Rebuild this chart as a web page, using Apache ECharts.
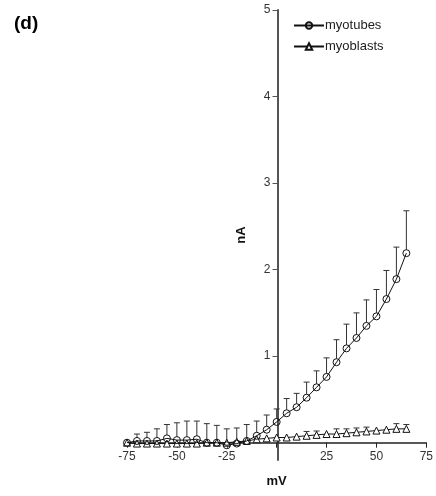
<!DOCTYPE html>
<html>
<head>
<meta charset="utf-8">
<script src="https://cdn.jsdelivr.net/npm/echarts@6/dist/echarts.min.js"></script>
<style>
  html, body { margin: 0; padding: 0; background: #fff; }
  #chart { width: 436px; height: 496px; }
</style>
</head>
<body>
<div id="chart"></div>
<script>
// membrane voltage steps (mV)
const voltages = [-75, -70, -65, -60, -55, -50, -45, -40, -35, -30, -25, -20, -15, -10, -5,
  0, 5, 10, 15, 20, 25, 30, 35, 40, 45, 50, 55, 60, 65];

// mean current (nA)
const myotubes = [0, 0.02, 0.02, 0.02, 0.05, 0.03, 0.03, 0.04, 0.0, 0.0, -0.03, -0.01, 0.02, 0.08, 0.15,
  0.24, 0.34, 0.41, 0.52, 0.64, 0.76, 0.93, 1.09, 1.21, 1.35, 1.46, 1.66, 1.89, 2.19];
const myoblasts = [0, -0.01, -0.01, -0.01, -0.01, -0.01, -0.01, -0.01, 0, 0, 0, 0.01, 0.02, 0.04, 0.05,
  0.06, 0.06, 0.07, 0.08, 0.09, 0.1, 0.1, 0.11, 0.12, 0.13, 0.14, 0.15, 0.16, 0.16];

// SEM (upper bars only)
const myotubesErr = [0.04, 0.08, 0.10, 0.14, 0.16, 0.20, 0.22, 0.21, 0.22, 0.20, 0.19, 0.18, 0.19, 0.17, 0.17,
  0.15, 0.17, 0.16, 0.18, 0.19, 0.22, 0.26, 0.28, 0.29, 0.30, 0.31, 0.33, 0.37, 0.49];
const myoblastsErr = [0.04, 0.03, 0.03, 0.03, 0.03, 0.03, 0.03, 0.03, 0.03, 0.03, 0.03, 0.03, 0.03, 0.03, 0.04,
  0.04, 0.04, 0.03, 0.05, 0.045, 0.04, 0.06, 0.05, 0.05, 0.05, 0.04, 0.04, 0.06, 0.05];

const yTicks = [1, 2, 3, 4, 5];

const mkPairs = (ys) => voltages.map((v, i) => [v, ys[i]]);
const mkErr = (ys, es) => voltages.map((v, i) => [v, ys[i], ys[i] + es[i]]);

function errorBars(params, api) {
  const x = api.value(0);
  const base = api.coord([x, api.value(1)]);
  const top = api.coord([x, api.value(2)]);
  const style = { stroke: '#333', lineWidth: 1 };
  const y0 = base[1] - 3.5;
  if (top[1] >= y0) return { type: 'group', children: [] };
  return {
    type: 'group',
    children: [
      { type: 'line', shape: { x1: base[0], y1: y0, x2: top[0], y2: top[1] }, style: style },
      { type: 'line', shape: { x1: top[0] - 3, y1: top[1], x2: top[0] + 3, y2: top[1] }, style: style }
    ]
  };
}

// grid box: x -75..75 over 301px, y -0.2..5 over 450px
const gridLeft = 127, gridW = 301, gridTop = 10, gridH = 450;
const yMin = -0.2, yMax = 5;
const yAxisShift = -gridW / 2;                        // put y axis at x = 0
const xAxisShift = -gridH * (0 - yMin) / (yMax - yMin); // put x axis at y = 0

const chart = echarts.init(document.getElementById('chart'));
chart.setOption({
  animation: false,
  backgroundColor: '#fff',
  textStyle: { fontFamily: 'Liberation Sans, Arial, sans-serif' },
  graphic: [
    { type: 'text', left: 14, top: 14, style: { text: '(d)', font: 'bold 19px Liberation Sans, Arial, sans-serif', fill: '#000' } }
  ],
  legend: {
    orient: 'vertical',
    left: 288,
    top: 14,
    itemGap: 8,
    itemWidth: 30,
    itemHeight: 8,
    textStyle: { fontSize: 13, color: '#222', padding: [0, 0, 0, -4] },
    data: ['myotubes', 'myoblasts']
  },
  grid: { left: gridLeft, width: gridW, top: gridTop, height: gridH },
  xAxis: {
    type: 'value',
    min: -75,
    max: 75,
    interval: 25,
    offset: xAxisShift,
    name: 'mV',
    nameLocation: 'middle',
    nameGap: 32,
    nameTextStyle: { fontWeight: 'bold', fontSize: 13, color: '#111' },
    axisLine: { onZero: false, lineStyle: { color: '#222', width: 1.5 } },
    axisTick: { length: 5, lineStyle: { color: '#222', width: 1 } },
    axisLabel: {
      color: '#333', fontSize: 12, margin: 8,
      formatter: (v) => (v === 0 ? '' : String(v))
    },
    splitLine: { show: false }
  },
  yAxis: {
    type: 'value',
    min: yMin,
    max: yMax,
    offset: yAxisShift,
    name: 'nA',
    nameLocation: 'middle',
    nameGap: 30,
    nameRotate: 90,
    nameTextStyle: { fontWeight: 'bold', fontSize: 13, color: '#111' },
    axisLine: { onZero: false, lineStyle: { color: '#555', width: 2 } },
    axisTick: { length: 5, customValues: yTicks, lineStyle: { color: '#555', width: 1 } },
    axisLabel: { color: '#333', fontSize: 12, margin: 7, customValues: yTicks },
    splitLine: { show: false }
  },
  series: [
    {
      type: 'custom',
      name: 'myotubesErr',
      renderItem: errorBars,
      encode: { x: 0, y: [1, 2] },
      data: mkErr(myotubes, myotubesErr),
      z: 1,
      silent: true
    },
    {
      type: 'custom',
      name: 'myoblastsErr',
      renderItem: errorBars,
      encode: { x: 0, y: [1, 2] },
      data: mkErr(myoblasts, myoblastsErr),
      z: 1,
      silent: true
    },
    {
      name: 'myotubes',
      type: 'line',
      data: mkPairs(myotubes),
      symbol: 'circle',
      symbolSize: 7,
      z: 3,
      lineStyle: { color: '#111', width: 1 },
      itemStyle: { color: 'rgba(255,255,255,0)', borderColor: '#111', borderWidth: 1 }
    },
    {
      name: 'myoblasts',
      type: 'line',
      data: mkPairs(myoblasts),
      symbol: 'triangle',
      symbolSize: 7,
      z: 2,
      lineStyle: { color: '#111', width: 1 },
      itemStyle: { color: '#fff', borderColor: '#111', borderWidth: 1 }
    }
  ]
});
</script>
</body>
</html>
